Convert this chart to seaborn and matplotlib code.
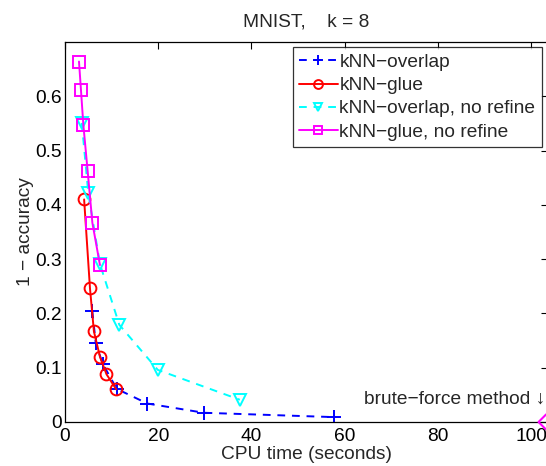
import matplotlib
matplotlib.use("Agg")
import matplotlib.pyplot as plt
import seaborn as sns
import pandas as pd

# ---- data ----
overlap_x = [5.85, 6.6, 8.1, 11.1, 17.66, 29.8, 57.7]
overlap_y = [0.205, 0.145, 0.107, 0.061, 0.034, 0.017, 0.009]

glue_x = [4.1, 5.36, 6.2, 7.5, 8.9, 11.0]
glue_y = [0.410, 0.246, 0.167, 0.120, 0.088, 0.060]

overlap_nr_x = [3.6, 5.0, 7.5, 11.65, 19.9, 37.5]
overlap_nr_y = [0.551, 0.421, 0.291, 0.179, 0.096, 0.041]

glue_nr_x = [3.0, 3.43, 3.93, 4.86, 5.87, 7.5]
glue_nr_y = [0.664, 0.611, 0.548, 0.462, 0.367, 0.289]

brute_x = [103.2]
brute_y = [0.0]

series_labels = ["kNN\u2212overlap", "kNN\u2212glue",
                 "kNN\u2212overlap, no refine", "kNN\u2212glue, no refine"]
x_ticks = [0, 20, 40, 60, 80, 100]
y_ticks = [0, 0.1, 0.2, 0.3, 0.4, 0.5, 0.6]
y_tick_labels = ["0", "0.1", "0.2", "0.3", "0.4", "0.5", "0.6"]

FS = 13.8

sns.set_style("white")
plt.rcParams["font.family"] = ["Liberation Sans", "DejaVu Sans"]
plt.rcParams["font.size"] = FS
plt.rcParams["xtick.direction"] = "in"
plt.rcParams["ytick.direction"] = "in"

fig = plt.figure(figsize=(5.46, 4.66), dpi=100)
ax = fig.add_axes([65 / 546, 44 / 466, 483 / 546, 380 / 466])

specs = [
    (overlap_x, overlap_y, series_labels[0], (0, 0, 1), (0, (4, 3.5)), "+"),
    (glue_x, glue_y, series_labels[1], (1, 0, 0), "-", "o"),
    (overlap_nr_x, overlap_nr_y, series_labels[2], (0, 1, 1), (0, (4, 3.5)), "v"),
    (glue_nr_x, glue_nr_y, series_labels[3], (1, 0, 1), "-", "s"),
]
for xs, ys, lab, col, ls, mk in specs:
    df = pd.DataFrame({"x": xs, "y": ys})
    sns.lineplot(data=df, x="x", y="y", ax=ax, color=col, linestyle=ls,
                 marker=mk, markersize=8.5 if mk != "+" else 10,
                 markerfacecolor="none", markeredgecolor=col,
                 markeredgewidth=1.4, linewidth=1.4, label=lab, sort=False)

dfb = pd.DataFrame({"x": brute_x, "y": brute_y})
sns.scatterplot(data=dfb, x="x", y="y", ax=ax, marker="D", s=60,
                facecolor="none", edgecolor=(1, 0, 1), linewidth=1.5,
                clip_on=False, zorder=5, legend=False)

ax.set_xlim(0, 103.6)
ax.set_ylim(0, 0.7)
ax.set_xticks(x_ticks)
ax.set_yticks(y_ticks)
ax.set_yticklabels(y_tick_labels)
ax.tick_params(top=True, right=True, length=5, width=0.8, colors="black",
               labelsize=FS)
ax.tick_params(axis="x", pad=4)
ax.tick_params(axis="y", pad=2)
for s in ax.spines.values():
    s.set_color("black")
    s.set_linewidth(0.9)

ax.set_xlabel("CPU time (seconds)", fontsize=FS, labelpad=1)
ax.set_ylabel("1 \u2212 accuracy", fontsize=FS, labelpad=1)
ax.set_title("MNIST,    k = 8", fontsize=FS, pad=11)

ax.text(0.995, 0.06, "brute\u2212force method \u2193", transform=ax.transAxes,
        ha="right", va="center", fontsize=FS)

leg = ax.legend(loc="upper right", bbox_to_anchor=(0.988, 0.987),
                fontsize=FS, frameon=True, fancybox=False,
                handlelength=2.0, handletextpad=0.1, borderpad=0.35,
                labelspacing=0.3, borderaxespad=0, markerscale=0.75)
leg.get_frame().set_edgecolor("black")
leg.get_frame().set_linewidth(0.9)

fig.savefig("out.png", dpi=100)
